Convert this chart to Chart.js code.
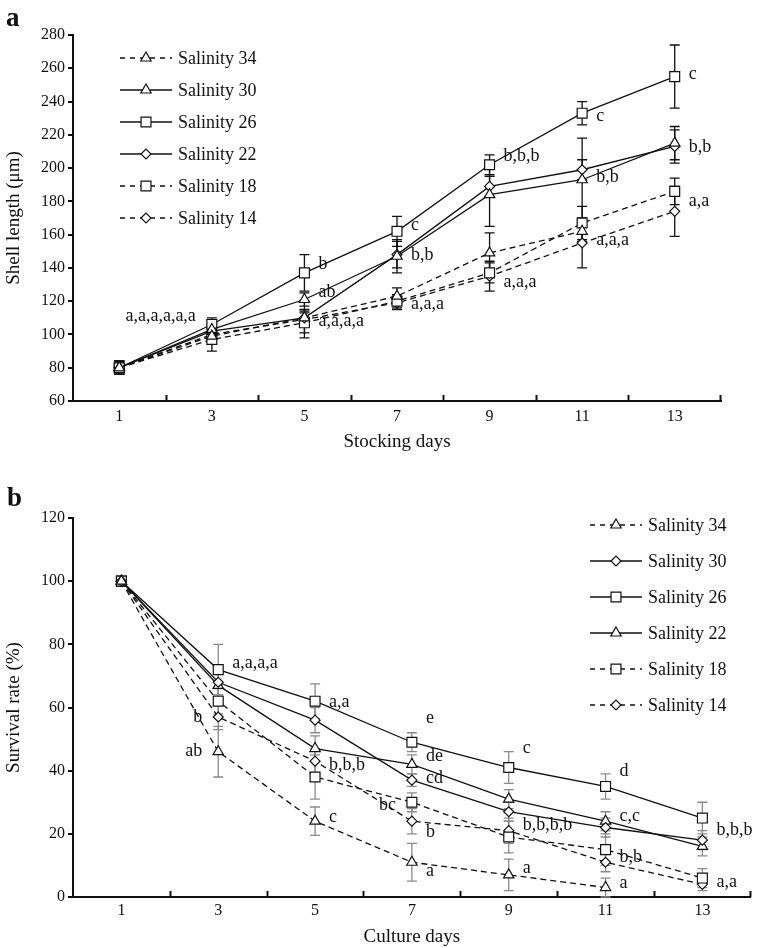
<!DOCTYPE html>
<html>
<head>
<meta charset="utf-8">
<title>Shell length and survival rate under different salinities</title>
<script src="https://cdn.jsdelivr.net/npm/chart.js@4.4.1/dist/chart.umd.min.js"></script>
<style>
  html, body { margin: 0; padding: 0; background: #fff; }
  #wrap { position: relative; width: 759px; height: 948px; }
  .panel { position: absolute; left: 0; width: 759px; }
  #panelA { top: 0; height: 460px; }
  #panelB { top: 460px; height: 488px; }
  canvas { display: block; }
</style>
</head>
<body>
<div id="wrap">
  <div class="panel" id="panelA"><canvas id="chartA" width="759" height="460"></canvas></div>
  <div class="panel" id="panelB"><canvas id="chartB" width="759" height="488"></canvas></div>
</div>
<script>
// ---------- shared x axis ----------
const days = [1, 3, 5, 7, 9, 11, 13];
const dayTickLabels = [1, 3, 5, 7, 9, 11, 13];
const dayMinorTicks = [2, 4, 6, 8, 10, 12, 14];
const seriesNames = ['Salinity 34', 'Salinity 30', 'Salinity 26', 'Salinity 22', 'Salinity 18', 'Salinity 14'];

// ---------- panel a: shell length (μm) ----------
const lengthTicks = [60, 80, 100, 120, 140, 160, 180, 200, 220, 240, 260, 280];
const lenSal34 = [80, 99, 110, 123, 149, 162, null];
const lenSal30 = [80, 103, 121, 147, 184, 193, 215];
const lenSal26 = [80, 106, 137, 162, 202, 233, 255];
const lenSal22 = [80, 102, 110, 148, 189, 199, 213];
const lenSal18 = [80, 97, 107, 120, 137, 167, 186];
const lenSal14 = [80, 100, 109, 119, 135, 155, 174];
const lenErr34 = [4, 4, 5, 5, 12, 6, null];
const lenErr30 = [4, 4, 4, 10, 19, 25, 10];
const lenErr26 = [4, 4, 11, 9, 6, 7, 19];
const lenErr22 = [4, 4, 4, 8, 6, 6, 10];
const lenErr18 = [4, 7, 6, 4, 6, 10, 8];
const lenErr14 = [4, 4, 11, 4, 9, 15, 15];
// significance letters: [day, value level, text, side]
const lenLetters = [
  [3, 110.5, 'a,a,a,a,a,a', 'L'],
  [5, 142, 'b', 'R'], [5, 125, 'ab', 'R'], [5, 107.5, 'a,a,a,a', 'R'],
  [7, 165, 'c', 'R'], [7, 147, 'b,b', 'R'], [7, 117.6, 'a,a,a', 'R'],
  [9, 207, 'b,b,b', 'R'], [9, 131, 'a,a,a', 'R'],
  [11, 231, 'c', 'R'], [11, 194, 'b,b', 'R'], [11, 156, 'a,a,a', 'R'],
  [13, 256, 'c', 'R'], [13, 212, 'b,b', 'R'], [13, 180, 'a,a', 'R']
];

// ---------- panel b: survival rate (%) ----------
const survivalTicks = [0, 20, 40, 60, 80, 100, 120];
const survSal34 = [100, 46, 24, 11, 7, 3, null];
const survSal30 = [100, 68, 56, 37, 27, 22, 18];
const survSal26 = [100, 72, 62, 49, 41, 35, 25];
const survSal22 = [100, 67, 47, 42, 31, 24, 16];
const survSal18 = [100, 62, 38, 30, 19, 15, 6];
const survSal14 = [100, 57, 43, 24, 21, 11, 4];
const survErr34 = [0, 8, 4.5, 6, 5, 3, null];
const survErr30 = [0, 4, 4, 2, 3, 3, 3];
const survErr26 = [0, 8, 5.5, 3, 5, 4, 5];
const survErr22 = [0, 4, 4, 3, 3, 3, 3];
const survErr18 = [0, 4, 7, 3, 5, 5, 3];
const survErr14 = [0, 4, 4, 4, 4, 3, 2];
const survLetters = [
  [3, 73.8, 'a,a,a,a', 'R'], [3, 56.7, 'b', 'L'], [3, 46, 'ab', 'L'],
  [5, 61.5, 'a,a', 'R'], [5, 41.5, 'b,b,b', 'R'], [5, 25, 'c', 'R'],
  [7, 56.4, 'e', 'R'], [7, 44.4, 'de', 'R'], [7, 37.4, 'cd', 'R'], [7, 29, 'bc', 'L'],
  [7, 20.4, 'b', 'R'], [7, 8, 'a', 'R'],
  [9, 47, 'c', 'R'], [9, 22.6, 'b,b,b,b', 'R'], [9, 9, 'a', 'R'],
  [11, 39.7, 'd', 'R'], [11, 25.4, 'c,c', 'R'], [11, 12.5, 'b,b', 'R'], [11, 4.3, 'a', 'R'],
  [13, 21, 'b,b,b', 'R'], [13, 4.6, 'a,a', 'R']
];

// ---------- styling ----------
const SERIF = '"Liberation Serif", "Times New Roman", Times, serif';
const INK = '#111';
const MARK = {
  tri: { pointStyle: 'triangle', radius: 6 },
  sq: { pointStyle: 'rect', radius: 7 },
  dia: { pointStyle: 'rectRot', radius: 5 }
};
const DASH = [6, 4];

function makeDataset(name, values, errors, mark, dashed) {
  return {
    label: name,
    data: days.map((d, i) => ({ x: d, y: values[i] })),
    errors: errors,
    dashed: dashed,
    mark: mark,
    borderColor: INK,
    borderWidth: 1.3,
    borderDash: dashed ? DASH : [],
    pointStyle: MARK[mark].pointStyle,
    pointRadius: MARK[mark].radius,
    pointBackgroundColor: '#fff',
    pointBorderColor: INK,
    pointBorderWidth: 1.2,
    fill: false,
    tension: 0,
    spanGaps: false
  };
}

// error bars, drawn under the markers
const errorBars = {
  id: 'errorBars',
  beforeDatasetsDraw(chart, args, opts) {
    const { ctx } = chart;
    const xs = chart.scales.x, ys = chart.scales.y;
    ctx.save();
    ctx.strokeStyle = opts.color;
    ctx.lineWidth = opts.width;
    ctx.setLineDash([]);
    chart.data.datasets.forEach(ds => {
      ds.data.forEach((p, i) => {
        const e = ds.errors[i];
        if (p.y == null || !e) return;
        const px = xs.getPixelForValue(p.x);
        const yt = ys.getPixelForValue(p.y + e);
        const yb = ys.getPixelForValue(p.y - e);
        ctx.beginPath();
        ctx.moveTo(px, yt); ctx.lineTo(px, yb);
        ctx.moveTo(px - opts.cap, yt); ctx.lineTo(px + opts.cap, yt);
        ctx.moveTo(px - opts.cap, yb); ctx.lineTo(px + opts.cap, yb);
        ctx.stroke();
      });
    });
    ctx.restore();
  }
};

// significance letters next to the points
const letterMarks = {
  id: 'letterMarks',
  afterDatasetsDraw(chart, args, opts) {
    const { ctx } = chart;
    const xs = chart.scales.x, ys = chart.scales.y;
    ctx.save();
    ctx.fillStyle = INK;
    ctx.font = opts.size + 'px ' + SERIF;
    ctx.textBaseline = 'alphabetic';
    opts.items.forEach(([day, level, text, side]) => {
      const px = xs.getPixelForValue(day);
      const py = ys.getPixelForValue(level) + opts.size * 0.23;
      if (side === 'L') {
        ctx.textAlign = 'right';
        ctx.fillText(text, px - opts.gapL, py);
      } else {
        ctx.textAlign = 'left';
        ctx.fillText(text, px + opts.gapR, py);
      }
    });
    ctx.restore();
  }
};

// tick marks: minor x ticks pointing up, y ticks pointing left
const axisTicks = {
  id: 'axisTicks',
  afterDraw(chart, args, opts) {
    const { ctx, chartArea } = chart;
    const xs = chart.scales.x, ys = chart.scales.y;
    ctx.save();
    ctx.strokeStyle = INK;
    ctx.lineWidth = 2;
    ctx.beginPath();
    dayMinorTicks.forEach(v => {
      const px = Math.round(xs.getPixelForValue(v)) - 0.5 + (v === 14 ? 0 : 1);
      ctx.moveTo(px, chartArea.bottom);
      ctx.lineTo(px, chartArea.bottom - 6);
    });
    opts.yTicks.forEach(v => {
      const py = Math.round(ys.getPixelForValue(v));
      ctx.moveTo(chartArea.left, py);
      ctx.lineTo(chartArea.left - 5, py);
    });
    ctx.stroke();
    ctx.restore();
  }
};

// hand-placed legend: line sample with marker, then the name
const sampleLegend = {
  id: 'sampleLegend',
  afterDraw(chart, args, opts) {
    const { ctx } = chart;
    ctx.save();
    chart.data.datasets.forEach((ds, i) => {
      const y = opts.y0 + i * opts.dy;
      ctx.strokeStyle = INK;
      ctx.lineWidth = 1.3;
      ctx.setLineDash(ds.dashed ? [5, 5] : []);
      ctx.beginPath();
      ctx.moveTo(opts.x1, y);
      ctx.lineTo(opts.x2, y);
      ctx.stroke();
      ctx.setLineDash([]);
      ctx.fillStyle = '#fff';
      ctx.lineWidth = 1.2;
      Chart.helpers.drawPoint(ctx, {
        pointStyle: MARK[ds.mark].pointStyle,
        radius: MARK[ds.mark].radius,
        rotation: 0,
        borderWidth: 1.2
      }, (opts.x1 + opts.x2) / 2, y);
      ctx.fillStyle = INK;
      ctx.font = opts.size + 'px ' + SERIF;
      ctx.textAlign = 'left';
      ctx.textBaseline = 'middle';
      ctx.fillText(ds.label, opts.tx, y + 1);
    });
    ctx.restore();
  }
};

// bold panel letter
const panelTag = {
  id: 'panelTag',
  afterDraw(chart, args, opts) {
    const { ctx } = chart;
    ctx.save();
    ctx.fillStyle = INK;
    ctx.font = 'bold 27px ' + SERIF;
    ctx.textAlign = 'left';
    ctx.textBaseline = 'alphabetic';
    ctx.fillText(opts.text, opts.x, opts.y);
    ctx.restore();
  }
};

function buildChart(canvasId, cfg) {
  return new Chart(document.getElementById(canvasId), {
    type: 'line',
    data: { datasets: cfg.datasets },
    plugins: [errorBars, letterMarks, axisTicks, sampleLegend, panelTag],
    options: {
      responsive: false,
      animation: false,
      events: [],
      layout: { padding: cfg.padding },
      plugins: {
        legend: { display: false },
        tooltip: { enabled: false },
        errorBars: cfg.errorOpts,
        letterMarks: { items: cfg.letters, size: 18, gapL: 16, gapR: 14 },
        axisTicks: { yTicks: cfg.yTicks },
        sampleLegend: cfg.legend,
        panelTag: cfg.tag
      },
      scales: {
        x: {
          type: 'linear',
          min: 0,
          max: 14,
          afterBuildTicks: s => { s.ticks = dayTickLabels.map(v => ({ value: v })); },
          afterFit: s => { s.height = cfg.xHeight; },
          grid: { display: false, drawTicks: false },
          border: { display: true, color: INK, width: 2 },
          ticks: { color: INK, font: { family: SERIF, size: 16 }, padding: cfg.xTickPad, maxRotation: 0, autoSkip: false },
          title: { display: true, text: cfg.xTitle, color: INK, font: { family: SERIF, size: 19 }, padding: { top: 0, bottom: cfg.xTitlePad } }
        },
        y: {
          type: 'linear',
          min: cfg.yTicks[0],
          max: cfg.yTicks[cfg.yTicks.length - 1],
          afterBuildTicks: s => { s.ticks = cfg.yTicks.map(v => ({ value: v })); },
          afterFit: s => { s.width = 73; },
          grid: { display: false, drawTicks: false },
          border: { display: true, color: INK, width: 2 },
          ticks: { color: INK, font: { family: SERIF, size: 16 }, padding: 8 },
          title: { display: true, text: cfg.yTitle, color: INK, font: { family: SERIF, size: 19 }, padding: { top: 3, bottom: 0 } }
        }
      }
    }
  });
}

// panel a
buildChart('chartA', {
  datasets: [
    makeDataset(seriesNames[0], lenSal34, lenErr34, 'tri', true),
    makeDataset(seriesNames[1], lenSal30, lenErr30, 'tri', false),
    makeDataset(seriesNames[2], lenSal26, lenErr26, 'sq', false),
    makeDataset(seriesNames[3], lenSal22, lenErr22, 'dia', false),
    makeDataset(seriesNames[4], lenSal18, lenErr18, 'sq', true),
    makeDataset(seriesNames[5], lenSal14, lenErr14, 'dia', true)
  ],
  padding: { left: 0, top: 35, right: 38, bottom: 0 },
  xHeight: 59,
  xTickPad: 6,
  xTitlePad: 7,
  xTitle: 'Stocking days',
  yTitle: 'Shell length (μm)',
  yTicks: lengthTicks,
  letters: lenLetters,
  errorOpts: { color: INK, width: 1.3, cap: 5 },
  legend: { x1: 120, x2: 172, tx: 178, y0: 58, dy: 32, size: 18 },
  tag: { text: 'a', x: 6, y: 26 }
});

// panel b
buildChart('chartB', {
  datasets: [
    makeDataset(seriesNames[0], survSal34, survErr34, 'tri', true),
    makeDataset(seriesNames[1], survSal30, survErr30, 'dia', false),
    makeDataset(seriesNames[2], survSal26, survErr26, 'sq', false),
    makeDataset(seriesNames[3], survSal22, survErr22, 'tri', false),
    makeDataset(seriesNames[4], survSal18, survErr18, 'sq', true),
    makeDataset(seriesNames[5], survSal14, survErr14, 'dia', true)
  ],
  padding: { left: 0, top: 58, right: 7, bottom: 0 },
  xHeight: 51,
  xTickPad: 4,
  xTitlePad: 0,
  xTitle: 'Culture days',
  yTitle: 'Survival rate (%)',
  yTicks: survivalTicks,
  letters: survLetters,
  errorOpts: { color: '#8a8a8a', width: 1.3, cap: 5 },
  legend: { x1: 590, x2: 642, tx: 648, y0: 65, dy: 36, size: 18 },
  tag: { text: 'b', x: 7, y: 46 }
});
</script>
</body>
</html>
